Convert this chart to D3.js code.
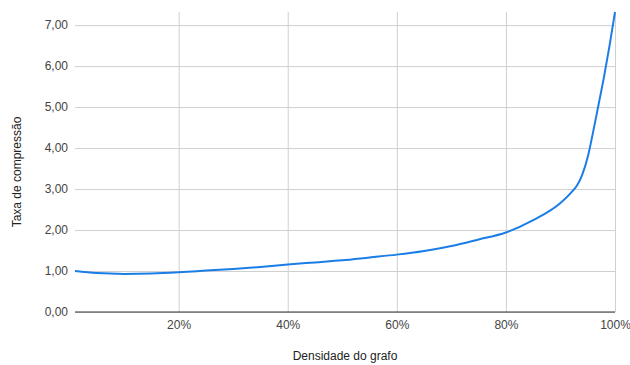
<!DOCTYPE html>
<html>
<head>
<meta charset="utf-8">
<script src="https://cdn.jsdelivr.net/npm/d3@7"></script>
<style>
  html, body { margin: 0; padding: 0; background: #fff; }
  svg { display: block; font-family: "Liberation Sans", Arial, sans-serif; }
</style>
</head>
<body>
<svg id="chart" width="630" height="365"></svg>
<script>
const density = [1, 5, 10, 15, 20, 25, 30, 35, 40, 45, 50, 55, 60, 65, 70, 75, 80, 85, 90, 92, 93, 94, 95, 96, 97, 98, 99, 100];
const ratio   = [1.00, 0.95, 0.93, 0.94, 0.97, 1.01, 1.05, 1.10, 1.16, 1.21, 1.26, 1.33, 1.40, 1.49, 1.61, 1.77, 1.94, 2.24, 2.66, 2.92, 3.08, 3.35, 3.78, 4.40, 5.07, 5.75, 6.50, 7.32];
const xTicks = [20, 40, 60, 80, 100];
const yTicks = [0, 1, 2, 3, 4, 5, 6, 7];
const xTitle = "Densidade do grafo";
const yTitle = "Taxa de compressão";

const svg = d3.select("#chart");
const m = { left: 75, right: 15, top: 12, bottom: 53 };
const W = 630, H = 365;

const x = d3.scaleLinear().domain([d3.min(density), d3.max(density)]).range([m.left, W - m.right]);
const y = d3.scaleLinear().domain([0, d3.max(ratio)]).range([H - m.bottom, m.top]);

const fmtY = v => v.toFixed(2).replace(".", ",");

const yAxis = d3.axisLeft(y).tickValues(yTicks).tickFormat(fmtY)
  .tickSize(-(W - m.left - m.right)).tickPadding(7);
const gy = svg.append("g").attr("transform", `translate(${m.left},0)`).call(yAxis);
gy.select(".domain").remove();
gy.selectAll(".tick line").attr("stroke", "#d0d0d0").attr("stroke-width", 1);
gy.selectAll(".tick text").attr("fill", "#444").attr("font-size", 12);

const xAxis = d3.axisBottom(x).tickValues(xTicks).tickFormat(d => d + "%")
  .tickSize(-(H - m.top - m.bottom)).tickPadding(8);
const gx = svg.append("g").attr("transform", `translate(0,${H - m.bottom})`).call(xAxis);
gx.select(".domain").remove();
gx.selectAll(".tick line").attr("stroke", "#d0d0d0").attr("stroke-width", 1);
gx.selectAll(".tick text").attr("fill", "#444").attr("font-size", 12);

svg.append("line")
  .attr("x1", m.left).attr("x2", W - m.right)
  .attr("y1", y(0)).attr("y2", y(0))
  .attr("stroke", "#333").attr("stroke-width", 1);

const data = density.map((d, i) => ({ x: d, y: ratio[i] }));
const line = d3.line().x(d => x(d.x)).y(d => y(d.y)).curve(d3.curveMonotoneX);
svg.append("path").datum(data)
  .attr("d", line)
  .attr("fill", "none")
  .attr("stroke", "#1b7de6")
  .attr("stroke-width", 2)
  .attr("stroke-linejoin", "round");

svg.append("text")
  .attr("x", (m.left + W - m.right) / 2).attr("y", 360)
  .attr("text-anchor", "middle").attr("font-size", 12).attr("fill", "#222")
  .text(xTitle);
svg.append("text")
  .attr("transform", `translate(21,${(m.top + H - m.bottom) / 2 + 10}) rotate(-90)`)
  .attr("text-anchor", "middle").attr("font-size", 12).attr("fill", "#222")
  .text(yTitle);
</script>
</body>
</html>
